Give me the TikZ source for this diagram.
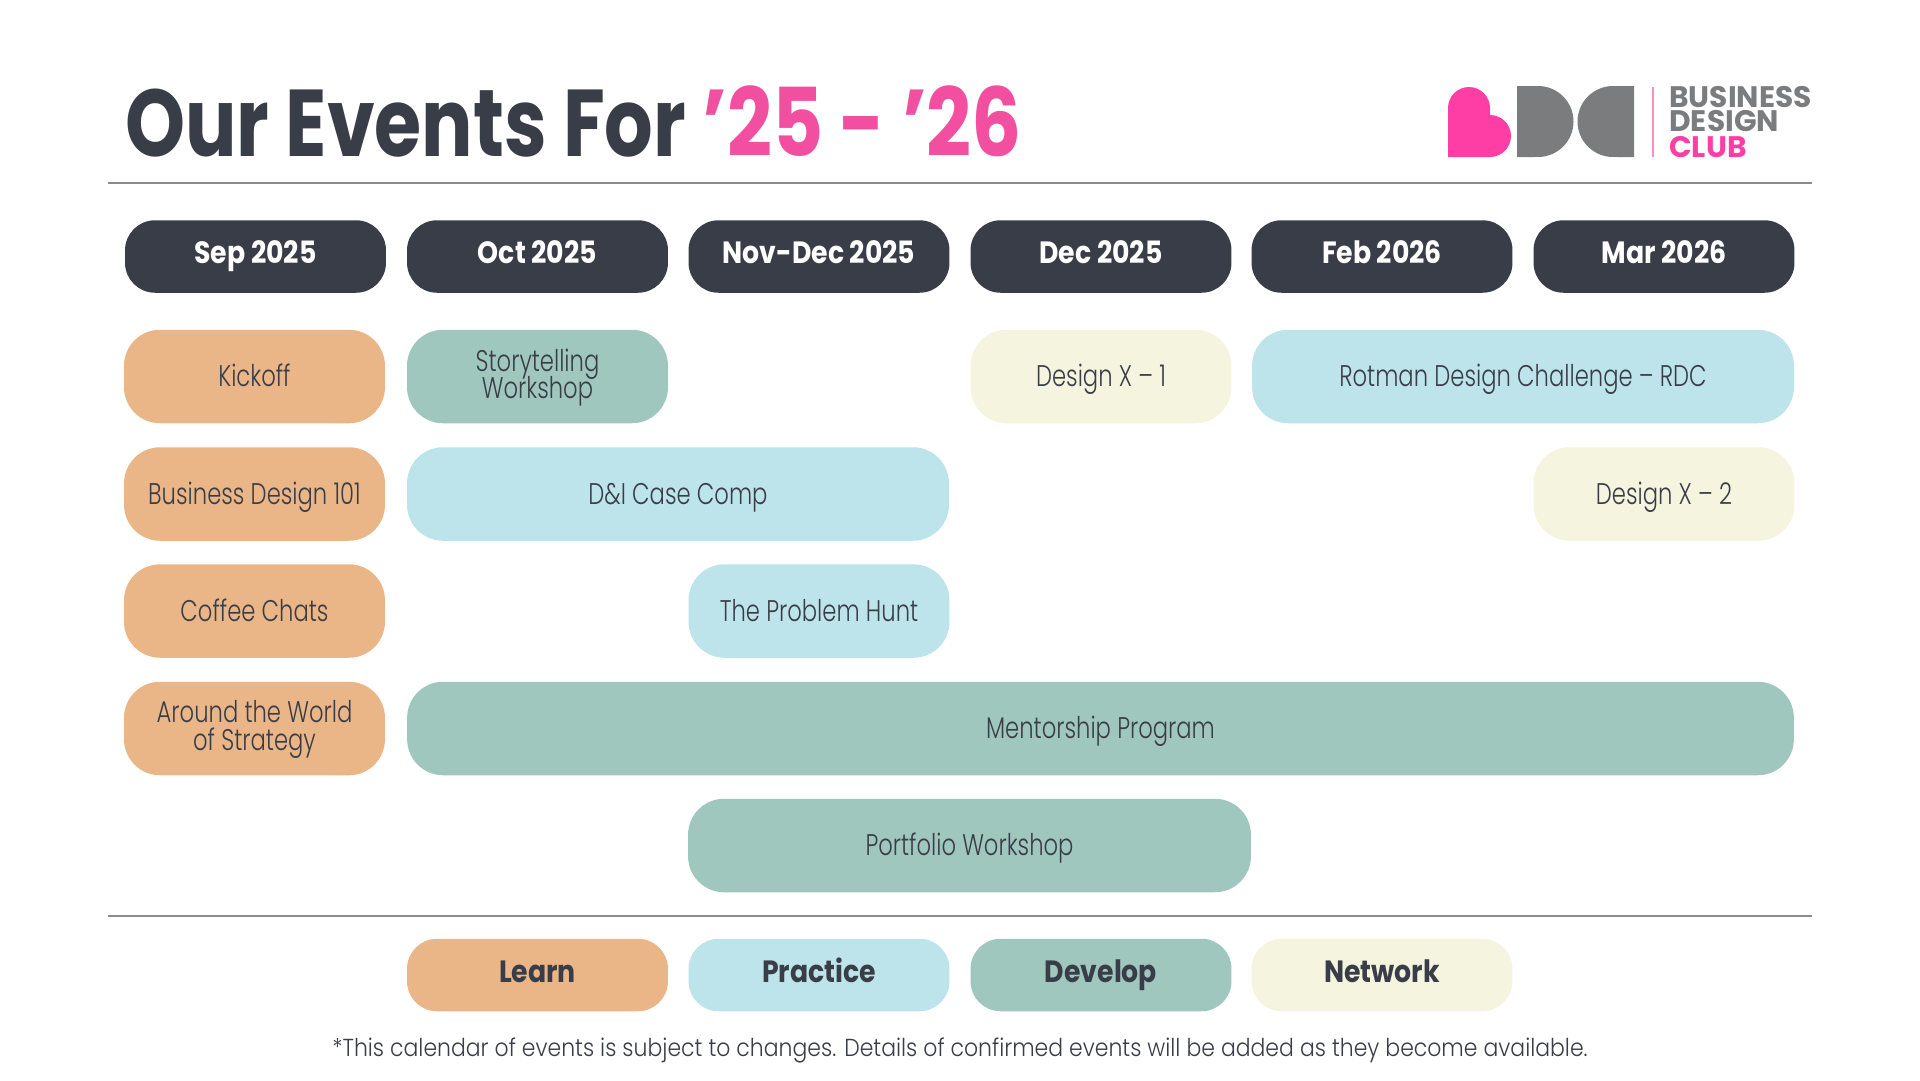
\documentclass[tikz,border=0pt]{standalone}
\usepackage{fontspec}
\setmainfont{Poppins Light}
\newfontfamily\bodyfont[FakeStretch=0.76]{Poppins Light}
\newfontfamily\notefont[FakeStretch=0.893]{Poppins Light}
\newfontfamily\boldfont[FakeStretch=0.87]{Poppins}[UprightFont=* Bold]
\newfontfamily\titlefont[FakeStretch=0.805]{Poppins}[UprightFont=* Bold]
\newfontfamily\yearfont[FakeStretch=0.83]{Poppins}[UprightFont=* Bold]
\newfontfamily\logofont{Poppins}[UprightFont=* Bold]
\definecolor{inkdark}{HTML}{393D47}
\definecolor{titlepink}{HTML}{F34FA0}
\definecolor{logopink}{HTML}{FF3EA5}
\definecolor{logogray}{HTML}{7B7C7E}
\definecolor{rulegray}{HTML}{8A8A90}
\definecolor{learncol}{HTML}{EAB587}
\definecolor{practicecol}{HTML}{BEE4EB}
\definecolor{developcol}{HTML}{9FC7BE}
\definecolor{networkcol}{HTML}{F5F4DF}
\tikzset{
    pill/.style={rounded corners=0.72cm, inner sep=0pt, minimum height=1.87cm, align=center,
        text=inkdark, text height=0.5cm, text depth=0.1cm, font=\bodyfont\fontsize{17}{15.4}\selectfont},
    twolines/.style={text height=0.86cm, text depth=0cm},
    head/.style={pill, fill=inkdark, text=white, minimum width=5.22cm, minimum height=1.45cm,
        rounded corners=0.6cm, text height=0.34cm, text depth=0.08cm, font=\boldfont\fontsize{17.5}{18}\selectfont},
    key/.style={head, text=inkdark, text height=0.36cm, text depth=0.08cm},
    learn/.style={pill, fill=learncol},
    practice/.style={pill, fill=practicecol},
    develop/.style={pill, fill=developcol},
    network/.style={pill, fill=networkcol},
    rule/.style={draw=rulegray, line width=0.7pt},
    logotext/.style={anchor=base west, inner sep=0pt, text height=0.3cm, text depth=0pt,
        font=\logofont\fontsize{16.9}{16.9}\selectfont}
}
\begin{document}
\begin{tikzpicture}[x=0.02cm, y=-0.02cm]
    \useasboundingbox (0,0) rectangle (1920,1080);

    % Titulo
    \node[anchor=base west, inner sep=0pt, text=inkdark, font=\titlefont\fontsize{54}{60}\selectfont] (title) at (125,156.5) {Our Events For};
    \node[anchor=base west, inner sep=0pt, text=titlepink, font=\yearfont\fontsize{54}{60}\selectfont] (years) at (702,156.5) {’25 - ’26};

    % Logo
    \fill[logopink] (1448,157) -- (1448,108) arc (180:0:0.42cm) -- (1490,115) arc (90:-90:0.42cm) -- cycle;
    \fill[logogray] (1517,86) -- (1538,86) arc (90:-90:0.71cm) -- (1517,157) -- cycle;
    \fill[logogray] (1634,86) -- (1613,86) arc (90:270:0.71cm) -- (1634,157) -- cycle;
    \draw[logopink!60, line width=0.6pt] (1653,87) -- (1653,157);
    \node[logotext, text=logogray] (logoa) at (1669,107) {BUSINESS};
    \node[logotext, text=logogray] (logob) at (1669,131.5) {DESIGN};
    \node[logotext, text=logopink] (logoc) at (1669,157) {CLUB};

    % Lineas
    \draw[rule] (108,183) -- (1812,183);
    \draw[rule] (108,916) -- (1812,916);

    % Meses
    \node[head] (sep) at (255.5,256.5) {Sep 2025};
    \node[head] (oct) at (537.5,256.5) {Oct 2025};
    \node[head] (nov) at (819,256.5) {Nov-Dec 2025};
    \node[head] (dec) at (1101,256.5) {Dec 2025};
    \node[head] (feb) at (1382,256.5) {Feb 2026};
    \node[head] (mar) at (1664,256.5) {Mar 2026};

    % Fila 1
    \node[learn, minimum width=5.22cm] (kickoff) at (254.5,376.5) {Kickoff};
    \node[develop, twolines, minimum width=5.22cm] (story) at (537.5,376.5) {Storytelling\\[-2.9pt]Workshop};
    \node[network, minimum width=5.22cm] (designa) at (1101,376.5) {Design X – 1};
    \node[practice, minimum width=10.84cm] (rotman) at (1523,376.5) {Rotman Design Challenge – RDC};

    % Fila 2
    \node[learn, minimum width=5.22cm] (bdone) at (254.5,494) {Business Design 101};
    \node[practice, minimum width=10.84cm] (dicase) at (678,494) {D\&I Case Comp};
    \node[network, minimum width=5.22cm] (designb) at (1664,494) {Design X – 2};

    % Fila 3
    \node[learn, minimum width=5.22cm] (coffee) at (254.5,611) {Coffee Chats};
    \node[practice, minimum width=5.22cm] (hunt) at (819,611) {The Problem Hunt};

    % Fila 4
    \node[learn, twolines, minimum width=5.22cm] (world) at (254.5,728.5) {Around the World\\of Strategy};
    \node[develop, minimum width=27.74cm] (mentor) at (1100.5,728.5) {Mentorship Program};

    % Fila 5
    \node[develop, minimum width=11.26cm] (portfolio) at (969.5,845.5) {Portfolio Workshop};

    % Leyenda
    \node[key, fill=learncol] (keylearn) at (537.5,975) {Learn};
    \node[key, fill=practicecol] (keypractice) at (819,975) {Practice};
    \node[key, fill=developcol] (keydevelop) at (1101,975) {Develop};
    \node[key, fill=networkcol] (keynetwork) at (1382,975) {Network};

    \node[inner sep=0pt, text=inkdark, font=\notefont\fontsize{14}{16}\selectfont] (notice) at (960,1050) {*This calendar of events is subject to changes. Details of confirmed events will be added as they become available.};
\end{tikzpicture}
\end{document}
